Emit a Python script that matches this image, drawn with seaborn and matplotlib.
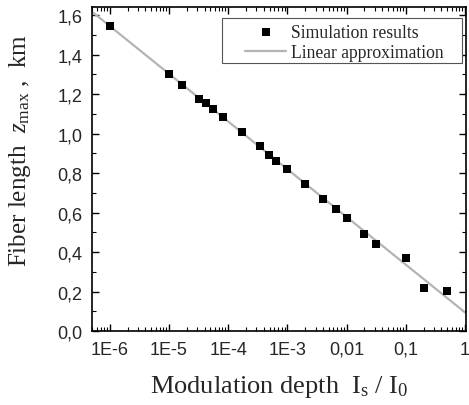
import matplotlib
matplotlib.use('Agg')
import matplotlib.pyplot as plt
import matplotlib.ticker as mticker
from matplotlib.patches import Rectangle
import pandas as pd
import seaborn as sns

# simulation results
mod_depth = [1e-6, 1e-5, 1.65e-5, 3.2e-5, 4.2e-5, 5.5e-5, 8.2e-5, 1.7e-4, 3.5e-4,
             4.9e-4, 6.5e-4, 1e-3, 2e-3, 4e-3, 6.7e-3, 1e-2, 2e-2, 3.1e-2, 0.1, 0.2, 0.5]
fiber_len = [1.545, 1.302, 1.248, 1.176, 1.155, 1.122, 1.082, 1.008, 0.935,
             0.893, 0.862, 0.820, 0.746, 0.670, 0.616, 0.574, 0.491, 0.442, 0.368, 0.216, 0.203]

# linear approximation (endpoints at the axis edges)
fit_x = [5e-7, 1.05]
fit_y = [1.617, 0.090]

x_ticks = [1e-6, 1e-5, 1e-4, 1e-3, 1e-2, 1e-1, 1]
x_labels = ['1E-6', '1E-5', '1E-4', '1E-3', '0,01', '0,1', '1']

sim = pd.DataFrame({'x': mod_depth, 'y': fiber_len})
fit = pd.DataFrame({'x': fit_x, 'y': fit_y})

sns.set_style('ticks')
plt.rcParams['font.family'] = ['Liberation Sans', 'DejaVu Sans']
plt.rcParams['mathtext.fontset'] = 'custom'
plt.rcParams['mathtext.rm'] = 'Liberation Serif'
plt.rcParams['mathtext.it'] = 'Liberation Serif:italic'

fig = plt.figure(figsize=(4.69, 4.06), dpi=100)
ax = fig.add_axes([0.196, 0.182, 0.798, 0.798])

sns.lineplot(data=fit, x='x', y='y', ax=ax, color='#b4b4b4', linewidth=1.6,
             label='Linear approximation', zorder=2)
sns.scatterplot(data=sim, x='x', y='y', ax=ax, marker='s', color='black', s=38,
                edgecolor='black', linewidth=0, label='Simulation results', zorder=3)

ax.set_xscale('log')
ax.set_xlim(5e-7, 1.05)
ax.set_ylim(0, 1.64)

ax.set_xticks(x_ticks)
ax.set_xticklabels(x_labels)
ax.xaxis.set_minor_locator(mticker.LogLocator(base=10, subs=range(2, 10), numticks=20))
ax.xaxis.set_minor_formatter(mticker.NullFormatter())
ax.yaxis.set_major_locator(mticker.MultipleLocator(0.2))
ax.yaxis.set_minor_locator(mticker.MultipleLocator(0.1))
ax.yaxis.set_major_formatter(mticker.FuncFormatter(lambda v, p: f'{v:.1f}'.replace('.', ',')))

ax.tick_params(which='both', direction='in', top=True, right=True, color='black')
ax.tick_params(which='major', length=5, width=1, labelsize=13, pad=7)
ax.tick_params(which='minor', length=3, width=0.8)
for s in ax.spines.values():
    s.set_linewidth(1.2)
    s.set_color('black')

ax.set_xlabel(r'Modulation depth  $\mathrm{I}_\mathrm{s}$ / $\mathrm{I}_\mathrm{0}$',
              family='Liberation Serif', fontsize=19)
ax.set_ylabel(r'Fiber length  $z_\mathrm{max}$ ,  km',
              family='Liberation Serif', fontsize=18)
ax.xaxis.set_label_coords(0.5, -0.128)
ax.yaxis.set_label_coords(-0.158, 0.562)

# legend frame drawn separately (Origin style: wide left margin)
ax.add_patch(Rectangle((0.348, 0.827), 0.641, 0.139, transform=ax.transAxes,
                       facecolor='white', edgecolor='#555555', linewidth=0.8, zorder=4))
h, l = ax.get_legend_handles_labels()
leg = ax.legend(h[::-1], l[::-1], loc='center right', bbox_to_anchor=(0.94, 0.891),
                frameon=False, prop={'family': 'Liberation Serif', 'size': 12.7},
                borderaxespad=0, handlelength=2.3, handletextpad=0.3,
                labelspacing=0.2, borderpad=0)
leg.set_zorder(5)

fig.savefig('out.png', dpi=100)
